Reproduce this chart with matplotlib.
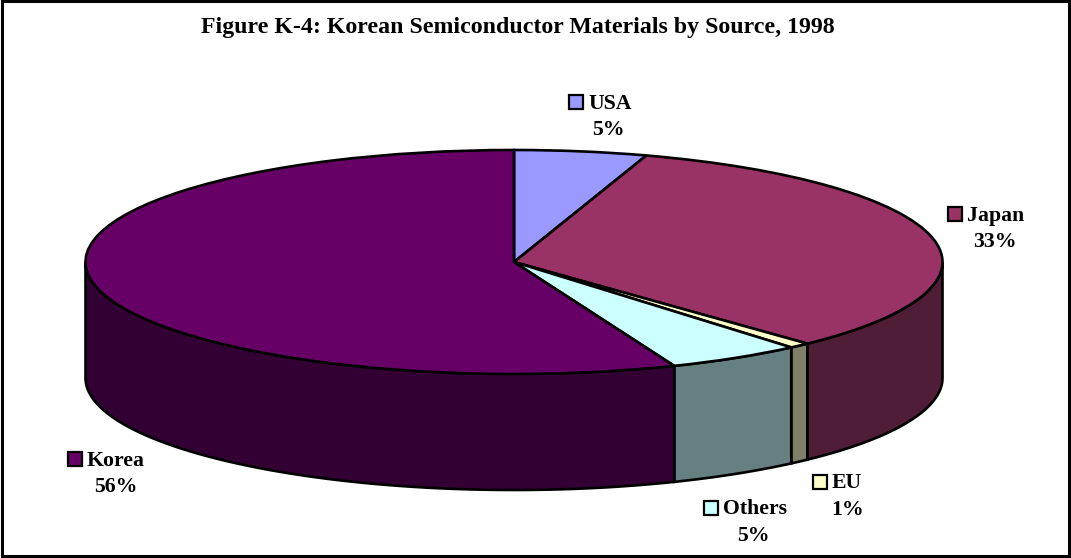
import numpy as np
import matplotlib
matplotlib.use('Agg')
import matplotlib.pyplot as plt
from matplotlib.patches import Rectangle

plt.rcParams['font.family'] = ['Liberation Serif', 'DejaVu Serif']

# Data, clockwise from the top of the pie (unrounded values estimated from the slice edges)
sources = ['USA', 'Japan', 'EU', 'Others', 'Korea']
shares = [5.0, 33.0, 0.8, 5.1, 56.1]
top_colors = ['#9999FF', '#993366', '#FFFFCC', '#CCFFFF', '#660066']
side_colors = ['#666699', '#4F1D35', '#80806A', '#668080', '#330033']
title = 'Figure K-4: Korean Semiconductor Materials by Source, 1998'

# Picture geometry in pixels
W, H = 1071, 558
cx, cy = 514, 262
rx, ry = 428.5, 112
depth = 116


def px(x, y):
    return (x - cx) / rx, (cy - y) / ry


fig = plt.figure(figsize=(W / 100, H / 100), dpi=100)
ax = fig.add_axes([0, 0, 1, 1])

# Top of the pie, squashed into an ellipse by the axis limits
wedges, _ = ax.pie(shares, colors=top_colors, startangle=90, counterclock=False,
                   radius=1, wedgeprops={'edgecolor': 'black', 'linewidth': 1.9, 'zorder': 3})
ax.set_aspect('auto')
ax.set_xlim(-cx / rx, (W - cx) / rx)
ax.set_ylim((cy - H) / ry, cy / ry)
ax.set_axis_off()

# Side wall, only for the front half of the rim
drop = depth / ry
start = 0
for share, color in zip(shares, side_colors):
    end = start + share * 3.6
    a = max(start, 90)
    b = min(end, 270)
    if b > a:
        t = np.radians(np.linspace(a, b, 80))
        x = np.sin(t)
        y = np.cos(t)
        ax.fill(np.r_[x, x[::-1]], np.r_[y, y[::-1] - drop], facecolor=color,
                edgecolor='black', linewidth=1.9, zorder=2)
    start = end

# Labels with their small colour keys: percent centre x, name y, key left x
label_pos = {'USA': (608, 102, 569), 'Japan': (995, 214, 948), 'EU': (848, 482, 813),
             'Others': (753, 508, 704), 'Korea': (116, 459, 68)}
for name, share, color in zip(sources, shares, top_colors):
    tx, ty, kx = label_pos[name]
    ax.text(*px(kx + 19, ty + 1.5), name, fontsize=15.7, fontweight='bold', ha='left', va='center')
    ax.text(*px(tx, ty + 28), f'{share:.0f}%', fontsize=15.7, fontweight='bold', ha='center', va='center')
    x0, y0 = px(kx, ty + 7)
    ax.add_patch(Rectangle((x0, y0), 14 / rx, 14 / ry, facecolor=color, edgecolor='black', linewidth=1.6))

ax.text(*px(518, 27), title, fontsize=17.2, fontweight='bold', ha='center', va='center')

# Outer frame
x0, y0 = px(2, 556)
ax.add_patch(Rectangle((x0, y0), 1067 / rx, 555 / ry, fill=False, edgecolor='black', linewidth=2.2, zorder=5))

fig.savefig('out.png', dpi=100, facecolor='white')
